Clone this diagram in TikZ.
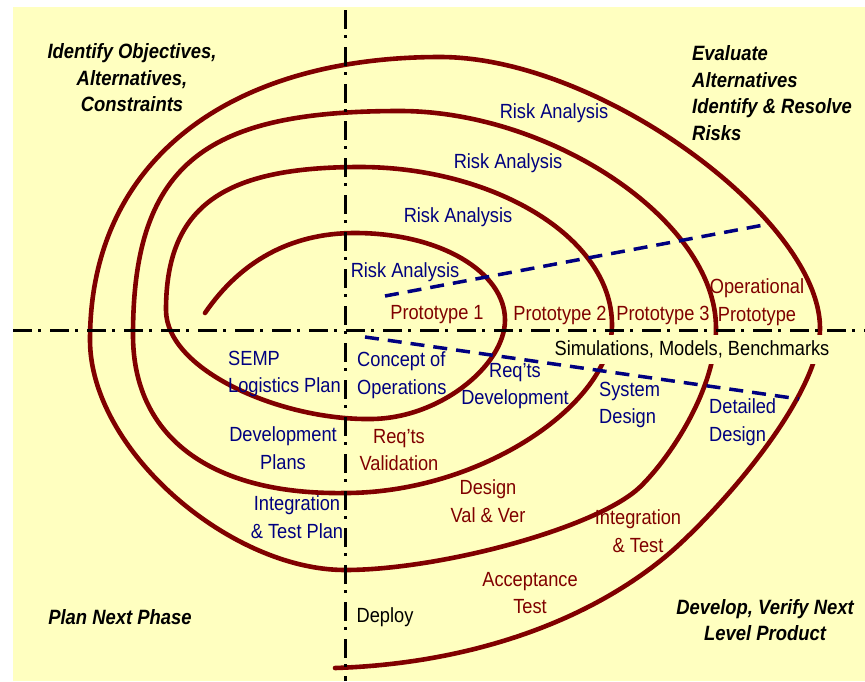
\documentclass[tikz,border=0pt]{standalone}
\usepackage{fontspec}
\setmainfont{Liberation Sans}[FakeStretch=0.89]
\definecolor{bg}{RGB}{255,255,192}
\definecolor{spir}{RGB}{128,0,0}
\definecolor{nav}{RGB}{0,0,128}
\definecolor{rtxt}{RGB}{128,0,0}
\begin{document}
\begin{tikzpicture}[x=1pt,y=-1pt,
  lbl/.style={font=\fontsize{20.5}{27.5}\selectfont, align=center, inner sep=0pt},
  blu/.style={lbl, text=nav},
  redl/.style={lbl, text=rtxt},
  blk/.style={lbl, text=black},
  quad/.style={font=\fontsize{20.7}{26.5}\selectfont\bfseries\itshape, align=center, inner sep=0pt},
  axisline/.style={line width=3pt, black, dash pattern=on 19pt off 6pt on 3pt off 9pt},
  spiral/.style={line width=4.6pt, spir, line cap=round, line join=round},
  bluedash/.style={line width=3.5pt, nav, dash pattern=on 14pt off 9pt}
]
\useasboundingbox (0,0) rectangle (865,681);
\fill[white] (0,0) rectangle (865,681);
\fill[bg] (13,7) rectangle (865,681);

% spiral
\draw[spiral] (205,313) .. controls (240,262) and (290,233) .. (355,233)
 .. controls (440,233) and (505,272) .. (505,320)
 .. controls (505,365) and (440,419) .. (370,419)
 .. controls (280,420) and (166,370) .. (166,310)
 .. controls (166,205) and (225,167) .. (360,167)
 .. controls (490,167) and (612,235) .. (612,325)
 .. controls (612,405) and (480,493) .. (345,493)
 .. controls (215,495) and (133,440) .. (133,335)
 .. controls (133,160) and (210,111) .. (400,111)
 .. controls (550,111) and (716,220) .. (716,328)
 .. controls (716,390) and (669,459) .. (640,487)
 .. controls (597,528) and (440,570) .. (345,570)
 .. controls (230,570) and (90,450) .. (90,340)
 .. controls (90,160) and (230,57) .. (440,57)
 .. controls (600,57) and (820,220) .. (820,328)
 .. controls (820,400) and (711,519) .. (665,557)
 .. controls (580,627) and (460,664) .. (335,668);

% label with background covering the spiral
\node[blk, fill=bg, inner xsep=5pt, minimum height=29pt] (sim) at (692,349) {Simulations, Models, Benchmarks};

% blue dashed lines
\coordinate (u1) at (385,296);
\coordinate (u2) at (769,224);
\coordinate (l1) at (365,337);
\coordinate (l2) at (799,399);
\draw[bluedash] (u1) -- (u2);
\draw[bluedash] (l1) -- (l2);

% axes
\coordinate (hx1) at (13,330);
\coordinate (hx2) at (865,330);
\coordinate (vx1) at (345,10);
\coordinate (vx2) at (345,681);
\draw[axisline] (hx1) -- (hx2);
\draw[axisline] (vx1) -- (vx2);

% quadrant titles
\node[quad] (q1) at (132,78) {Identify Objectives,\\Alternatives,\\Constraints};
\node[quad, align=left, anchor=west] (q2) at (692,93) {Evaluate\\Alternatives\\Identify \& Resolve\\Risks};
\node[quad] (q3) at (120,617) {Plan Next Phase};
\node[quad] (q4) at (765,620) {Develop, Verify Next\\Level Product};

% blue labels
\node[blu] (ra1) at (554,113) {Risk Analysis};
\node[blu] (ra2) at (508,163) {Risk Analysis};
\node[blu] (ra3) at (458,217) {Risk Analysis};
\node[blu] (ra4) at (405,272) {Risk Analysis};
\node[blu, align=left, anchor=west] (semp) at (228,374) {SEMP\\Logistics Plan};
\node[blu, align=left, anchor=west] (conc) at (357,375) {Concept of\\Operations};
\node[blu] (reqd) at (515,386) {Req’ts\\Development};
\node[blu, align=left, anchor=west] (sysd) at (599,405) {System\\Design};
\node[blu, align=left, anchor=west] (detd) at (709,422) {Detailed\\Design};
\node[blu] (devp) at (283,448) {Development\\Plans};
\node[blu] (itp) at (297,517) {Integration\\\& Test Plan};

% red labels
\node[redl] (p1) at (437,315) {Prototype 1};
\node[redl] (p2) at (560,315) {Prototype 2};
\node[redl] (p3) at (663,315) {Prototype 3};
\node[redl] (op) at (757,302) {Operational\\Prototype};
\node[redl] (reqv) at (399,450) {Req’ts\\Validation};
\node[redl] (dvv) at (488,501) {Design\\Val \& Ver};
\node[redl] (it) at (638,531) {Integration\\\& Test};
\node[redl] (at) at (530,593) {Acceptance\\Test};

% black label
\node[blk] (dep) at (385,617) {Deploy};
\end{tikzpicture}
\end{document}
